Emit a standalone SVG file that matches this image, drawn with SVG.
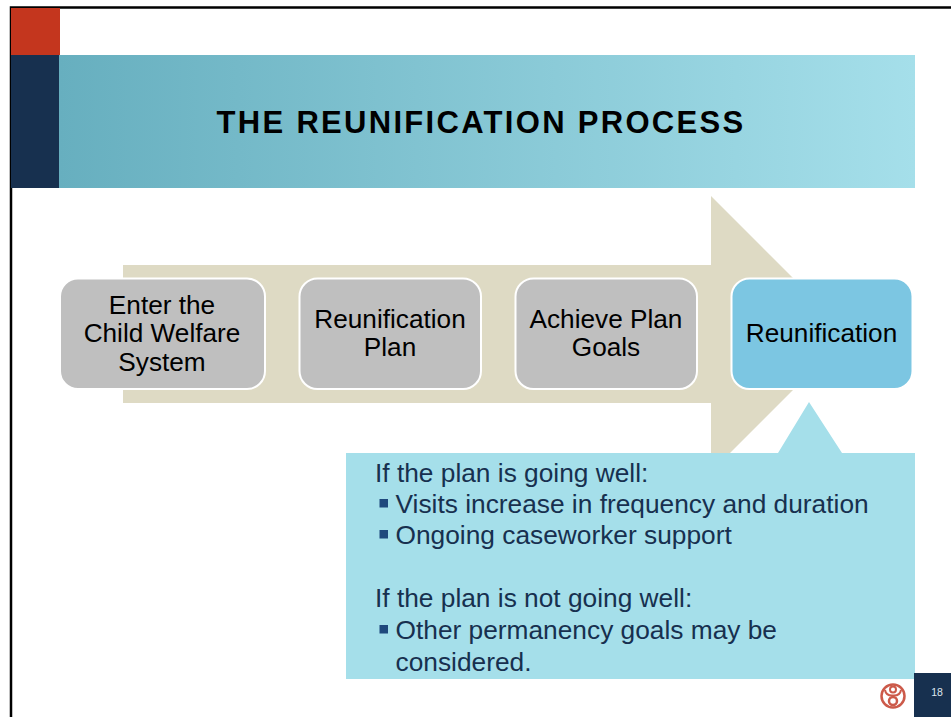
<svg xmlns="http://www.w3.org/2000/svg" width="951" height="717" viewBox="0 0 951 717">
<style>
text{font-family:"Liberation Sans",Arial,sans-serif}
.node{stroke:#fff;stroke-width:2}
.grey{fill:#bfbfbf}
.blue{fill:#7cc6e2}
.nt{font-size:26.200px;fill:#000;text-anchor:middle}
.body{font-size:26.300px;fill:#17304f}
.bul{fill:#1f497d}
</style>
<defs>
<linearGradient id="band" x1="0" y1="0" x2="1" y2="0">
<stop offset="0" stop-color="#67afbf"/>
<stop offset="1" stop-color="#a5dfea"/>
</linearGradient>
</defs>
<rect width="951" height="717" fill="#fff"/>
<path d="M11 717V7.500H951" fill="none" stroke="#000" stroke-width="2.500"/>
<rect x="11" y="8" width="49" height="47" fill="#c4361e"/>
<rect x="11" y="55" width="48" height="133" fill="#17304f"/>
<rect x="59" y="55" width="856" height="133" fill="url(#band)"/>
<text x="481" y="133" font-size="31" font-weight="700" fill="#000" text-anchor="middle" letter-spacing="2.300">THE REUNIFICATION PROCESS</text>
<polygon id="arrow" points="123,265 711,265 711,196 849,334 711,472 711,403 123,403" fill="#dedac4"/>
<g id="callout">
<polygon points="346,453 778,453 809,402 842,453 915,453 915,679 346,679" fill="#a5dfea"/>
<text class="body" x="375" y="482">If the plan is going well:</text>
<rect class="bul" x="379.500" y="499" width="8.500" height="8.500"/>
<text class="body" x="395.500" y="513">Visits increase in frequency and duration</text>
<rect class="bul" x="379.500" y="530" width="8.500" height="8.500"/>
<text class="body" x="395.500" y="544">Ongoing caseworker support</text>
<text class="body" x="375" y="607">If the plan is not going well:</text>
<rect class="bul" x="379.500" y="625" width="8.500" height="8.500"/>
<text class="body" x="395.500" y="639">Other permanency goals may be</text>
<text class="body" x="395.500" y="671">considered.</text>
</g>
<g id="node-enter">
<rect class="node grey" x="60" y="278.500" width="205" height="110.500" rx="18"/>
<text class="nt" x="162" y="314">Enter the</text>
<text class="nt" x="162" y="342">Child Welfare</text>
<text class="nt" x="162" y="371">System</text>
</g>
<g id="node-plan">
<rect class="node grey" x="299.500" y="278.500" width="181.500" height="110.500" rx="18"/>
<text class="nt" x="390" y="328">Reunification</text>
<text class="nt" x="390" y="356">Plan</text>
</g>
<g id="node-goals">
<rect class="node grey" x="515.500" y="278.500" width="181.500" height="110.500" rx="18"/>
<text class="nt" x="606" y="328">Achieve Plan</text>
<text class="nt" x="606" y="356">Goals</text>
</g>
<g id="node-reunification">
<rect class="node blue" x="731.500" y="278.500" width="181" height="110.500" rx="18"/>
<text class="nt" x="821.500" y="342">Reunification</text>
</g>
<g id="connectors"/>
<g id="logo" fill="none" stroke="#cc5a4a">
<circle cx="893" cy="696" r="11.500" stroke-width="2.500"/>
<circle cx="893" cy="689.500" r="3" stroke-width="2"/>
<circle cx="893" cy="701" r="4" stroke-width="2.500"/>
<path d="M885 690Q886 696 893 695.500Q900 696 901 690" stroke-width="2"/>
</g>
<rect x="914" y="673" width="37" height="44" fill="#17304f"/>
<text x="937" y="696" font-size="10.500" fill="#dfe6ee" text-anchor="middle">18</text>
</svg>
